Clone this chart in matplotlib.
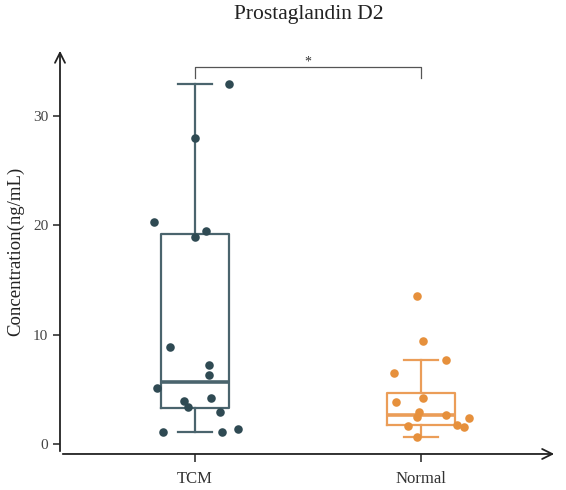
import matplotlib.pyplot as plt
import numpy as np

groups = ['TCM', 'Normal']

tcm_values = [32.9, 28.0, 20.3, 19.5, 18.9, 8.9, 7.2, 6.3, 5.1, 4.25, 3.9, 3.4, 2.9, 1.1, 1.1, 1.4]
tcm_jitter = [0.15, 0.0, -0.18, 0.05, 0.0, -0.11, 0.06, 0.06, -0.17, 0.07, -0.05, -0.03, 0.11, -0.14, 0.12, 0.19]

normal_values = [13.5, 9.4, 7.65, 6.47, 4.18, 3.87, 2.96, 2.5, 2.65, 2.35, 1.67, 1.74, 1.58, 0.67]
normal_jitter = [-0.02, 0.01, 0.11, -0.12, 0.01, -0.11, -0.01, -0.02, 0.11, 0.21, -0.06, 0.16, 0.19, -0.02]

# box statistics as drawn in the original figure
box_q1 = [3.27, 1.75]
box_med = [5.7, 2.7]
box_q3 = [19.2, 4.7]
box_lo = [1.1, 0.67]
box_hi = [32.9, 7.65]

box_colors = ['#4a646d', '#eb9d58']
dot_colors = ['#2f4a53', '#e6903c']

plt.rcParams['font.family'] = ['Liberation Serif', 'DejaVu Serif']

fig = plt.figure(figsize=(5.66, 4.90), dpi=100)
ax = fig.add_axes([0.106, 0.0735, 0.878, 0.8285])

stats = []
for i, g in enumerate(groups):
    stats.append({'label': g, 'q1': box_q1[i], 'med': box_med[i], 'q3': box_q3[i],
                  'whislo': box_lo[i], 'whishi': box_hi[i], 'fliers': []})

for i in range(2):
    c = box_colors[i]
    ax.bxp([stats[i]], positions=[i], widths=0.3, showfliers=False,
           boxprops=dict(color=c, linewidth=1.6),
           whiskerprops=dict(color=c, linewidth=1.6),
           capprops=dict(color=c, linewidth=1.6),
           medianprops=dict(color=c, linewidth=2.6),
           capwidths=0.15, zorder=2)

ax.scatter(np.array(tcm_jitter) + 0, tcm_values, s=38, color=dot_colors[0], zorder=3, linewidths=0)
ax.scatter(np.array(normal_jitter) + 1, normal_values, s=38, color=dot_colors[1], zorder=3, linewidths=0)

# significance bracket
ax.plot([0, 0, 1, 1], [33.5, 34.5, 34.5, 33.5], color='#555555', linewidth=0.9, clip_on=False)
ax.text(0.5, 34.6, '*', ha='center', va='baseline', fontsize=10, color='#333333')

ax.set_xlim(-0.597, 1.60)
ax.set_ylim(-0.9, 36.2)

for s in ax.spines.values():
    s.set_visible(False)
ax.annotate('', xy=(0, 1), xytext=(0, 0), xycoords='axes fraction',
            arrowprops=dict(arrowstyle='->', color='#222222', lw=1.3, mutation_scale=18))
ax.annotate('', xy=(1, 0), xytext=(0, 0), xycoords='axes fraction',
            arrowprops=dict(arrowstyle='->', color='#222222', lw=1.3, mutation_scale=18))

ax.set_xticks([0, 1])
ax.set_xticklabels(groups, fontsize=12, color='#333333')
ax.set_yticks([0, 10, 20, 30])
ax.tick_params(axis='y', labelsize=11, colors='#333333', length=5, width=1.2, labelcolor='#444444')
ax.tick_params(axis='x', length=6, width=1.2, colors='#333333', pad=6)

ax.set_ylabel('Concentration(ng/mL)', fontsize=13.5, color='#222222', labelpad=6)
fig.suptitle('Prostaglandin D2', fontsize=15.5, color='#222222', x=0.545, y=0.99)

fig.savefig('out.png', dpi=100)
